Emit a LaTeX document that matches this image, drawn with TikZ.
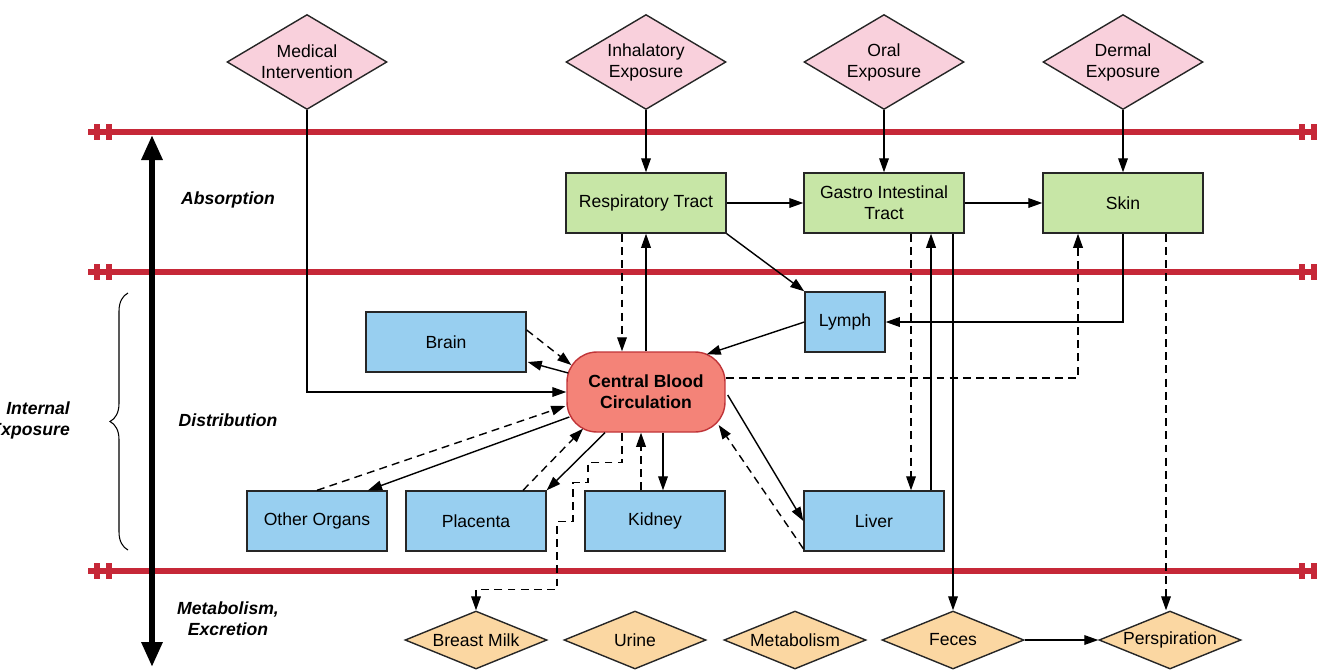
\documentclass[tikz,border=0pt]{standalone}
\usepackage{fontspec}
\setmainfont{Liberation Sans}
\usetikzlibrary{shapes.geometric,arrows.meta,calc,decorations.pathreplacing}
\definecolor{barred}{RGB}{198,40,56}
\definecolor{entrypink}{RGB}{249,208,220}
\definecolor{sinkorange}{RGB}{251,215,162}
\definecolor{barriergreen}{RGB}{199,230,166}
\definecolor{organblue}{RGB}{152,207,240}
\definecolor{bloodfill}{RGB}{244,131,120}
\definecolor{bloodedge}{RGB}{192,52,56}

\begin{document}
\begin{tikzpicture}[x=0.02cm,y=-0.02cm,font=\fontsize{10}{12}\selectfont,
    entry/.style={diamond,draw=black!85,line width=0.8pt,fill=entrypink,inner sep=0pt,shape aspect=1.67,minimum width=3.2cm,minimum height=1.9cm,align=center},
    sink/.style={diamond,draw=black!85,line width=0.8pt,fill=sinkorange,inner sep=0pt,shape aspect=2.45,minimum width=2.84cm,minimum height=1.16cm},
    barrier/.style={rectangle,draw=black!85,line width=0.8pt,fill=barriergreen,minimum width=3.2cm,minimum height=1.2cm,align=center},
    organ/.style={rectangle,draw=black!85,line width=0.8pt,fill=organblue,minimum width=2.8cm,minimum height=1.2cm},
    blood/.style={rectangle,rounded corners=0.6cm,draw=bloodedge,line width=0.8pt,fill=bloodfill,minimum width=3.16cm,minimum height=1.6cm,align=center,font=\fontsize{10}{12}\selectfont\bfseries},
    phase/.style={font=\fontsize{10}{12}\selectfont\bfseries\itshape,align=center},
    flow/.style={line width=0.8pt,-{Triangle[length=8pt,width=5.5pt]}},
    leak/.style={flow,dash pattern=on 4.5pt off 3pt}]
    \useasboundingbox (0,0) rectangle (1317,670);
    \clip (0,0) rectangle (1317,670);
    % barrier lines
    \foreach \y in {132,272,571}
    {
        \draw[barred,line width=3.8pt] (88,\y) -- (1317,\y);
        \foreach \x in {97,109,1302,1314}
            \fill[barred] (\x,\y) +(-3,-8) rectangle ++(3,8);
    }
    \draw[line width=3.4pt,{Triangle[length=0.5cm,width=0.4cm]}-{Triangle[length=0.5cm,width=0.4cm]}] (152,135) -- (152,667);
    \draw[line width=0.6pt,decorate,decoration={brace,amplitude=0.36cm}] (128,550) -- (128,293);
    \node (intexp) at (76,420) [phase,anchor=east,align=right] {Internal\\Exposure};
    \node (absorb) at (228,200) [phase] {Absorption};
    \node (distrib) at (228,420) [phase] {Distribution};
    \node (excret) at (228,619) [phase] {Metabolism,\\Excretion};
    % routes in
    \node (med) at (307,62) [entry] {Medical\\Intervention};
    \node (inh) at (646,62) [entry] {Inhalatory\\Exposure};
    \node (oral) at (884,62) [entry] {Oral\\Exposure};
    \node (derm) at (1123,62) [entry] {Dermal\\Exposure};
    \node (resp) at (646,203) [barrier] {Respiratory Tract};
    \node (gi) at (884,203) [barrier] {Gastro Intestinal\\Tract};
    \node (skin) at (1123,203) [barrier] {Skin};
    % organs
    \node (cbc) at (646,392) [blood] {Central Blood\\Circulation};
    \node (brain) at (446,342) [organ,minimum width=3.2cm] {Brain};
    \node (lymph) at (845,322) [organ,minimum width=1.6cm] {Lymph};
    \node (other) at (317,521) [organ] {Other Organs};
    \node (plac) at (476,521) [organ] {Placenta};
    \node (kid) at (655,521) [organ] {Kidney};
    \node (liver) at (874,521) [organ] {Liver};
    % routes out
    \node (bm) at (476,640) [sink] {Breast Milk};
    \node (urine) at (635,640) [sink] {Urine};
    \node (metab) at (795,640) [sink] {Metabolism};
    \node (feces) at (953,640) [sink] {Feces};
    \node (persp) at (1170,640) [sink] {Perspiration};
    \coordinate (skdrop) at ($(skin.south)+(43,0)$);
    \draw[flow] (med.south) |- (cbc.west);
    \draw[flow] (inh.south) -- (resp.north);
    \draw[flow] (oral.south) -- (gi.north);
    \draw[flow] (derm.south) -- (skin.north);
    \draw[flow] (resp.east) -- (gi.west);
    \draw[flow] (gi.east) -- (skin.west);
    \draw[leak] ($(resp.south)+(-24,0)$) -- ($(cbc.north)+(-24,0)$);
    \draw[flow] (cbc.north) -- (resp.south);
    \draw[flow] (resp.south east) -- (lymph.north west);
    \draw[flow] (lymph.west) -- ($(cbc.north east)+(-19,3)$);
    \draw[flow] (skin.south) |- (lymph.east);
    \draw[leak] ($(cbc.east)+(0,-14)$) -| ($(skin.south)+(-45,0)$);
    \draw[leak] (skdrop) -- (skdrop |- persp.north);
    \draw[leak] ($(gi.south)+(27,0)$) -- ($(liver.north)+(37,0)$);
    \draw[flow] ($(liver.north)+(57,0)$) -- ($(gi.south)+(47,0)$);
    \draw[flow] ($(gi.south)+(69,0)$) -- (feces.north);
    \draw[leak] ($(brain.east)+(0,-12)$) -- ($(cbc.west)+(5,-27)$);
    \draw[flow] ($(cbc.west)+(2,-19)$) -- ($(brain.east)+(1,20)$);
    \draw[leak] (other.north) -- ($(cbc.west)+(-1,14)$);
    \draw[flow] ($(cbc.west)+(3,25)$) -- ($(other.north)+(51,0)$);
    \draw[leak] ($(plac.north)+(47,0)$) -- ($(cbc.south)+(-63,-4)$);
    \draw[flow] ($(cbc.south)+(-41,0)$) -- (plac.north east);
    \draw[leak] ($(cbc.south)+(-24,0)$) -- ++(0,30) -- ++(-34,0) -- ++(0,20) -- ++(-15,0) -- ++(0,39) -- ++(-16,0) -- ++(0,68) -| (bm.north);
    \draw[leak] ($(kid.north)+(-14,0)$) -- ($(cbc.south)+(-5,0)$);
    \draw[flow] ($(cbc.south)+(17,0)$) -- ($(kid.north)+(8,0)$);
    \draw[flow] ($(cbc.east)+(2,3)$) -- (liver.west);
    \draw[leak] ($(liver.south west)+(0,-3)$) -- ($(cbc.east)+(-7,33)$);
    \draw[flow] (feces.east) -- (persp.west);
\end{tikzpicture}
\end{document}
